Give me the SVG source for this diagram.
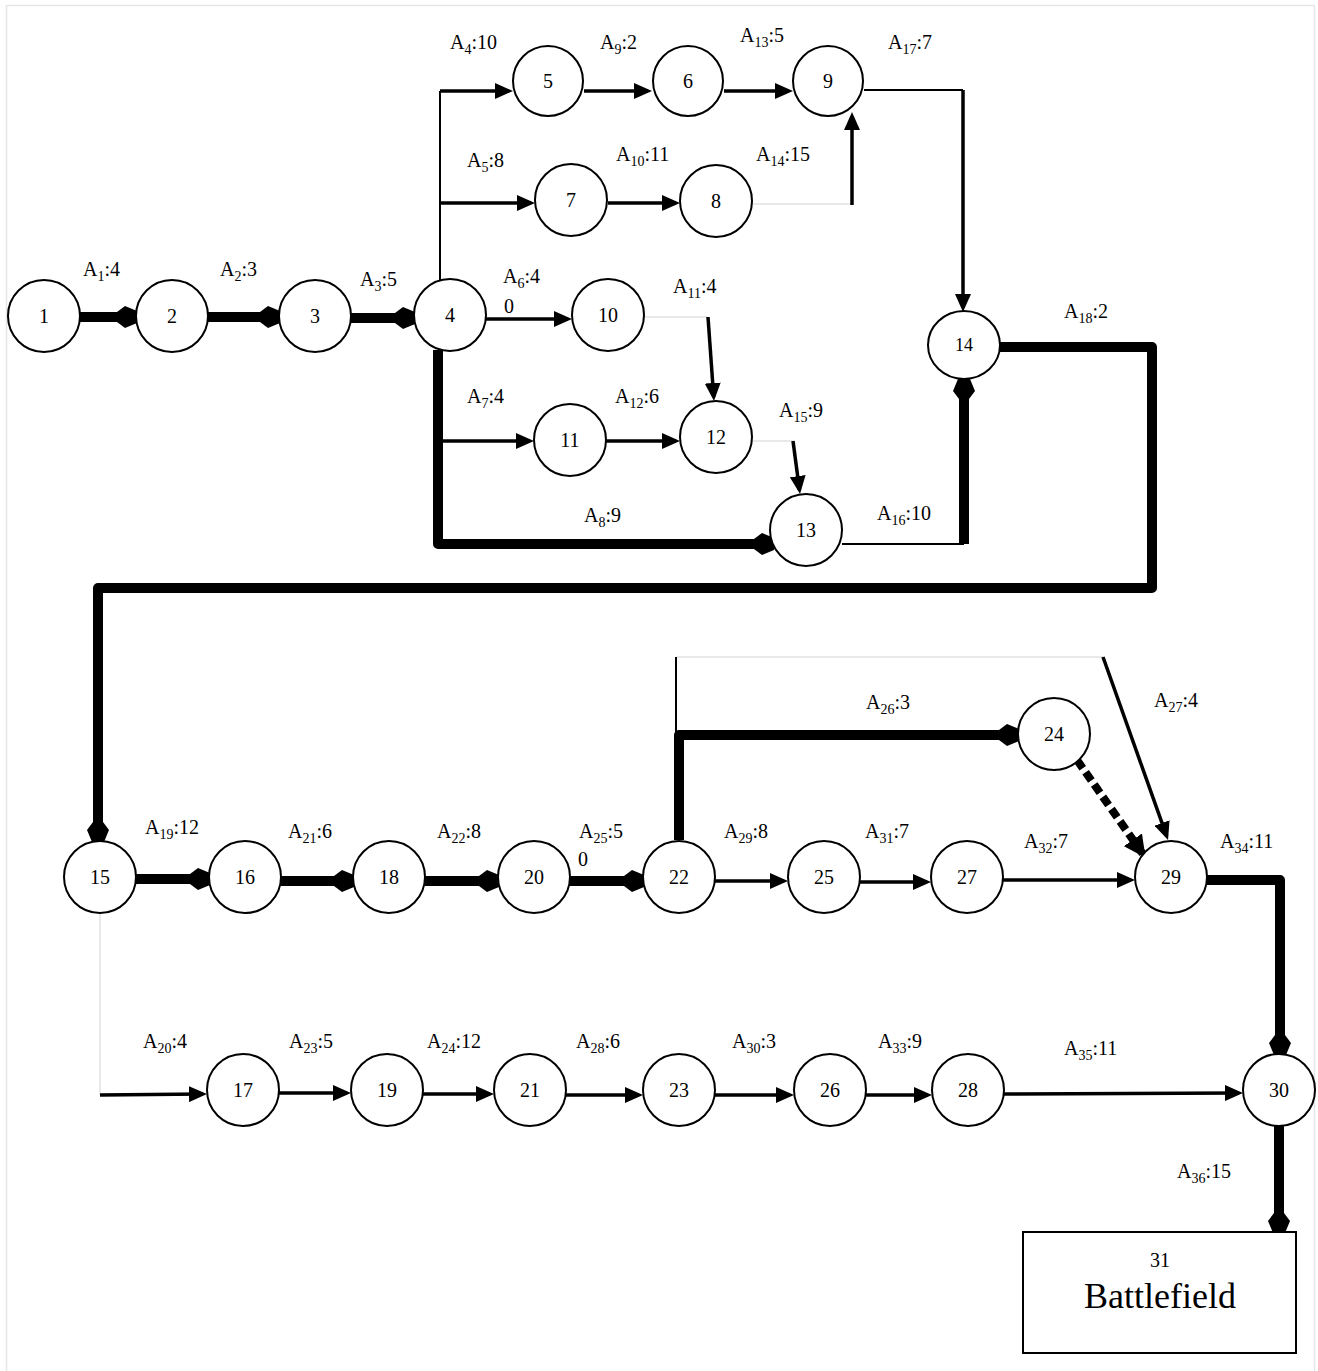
<svg xmlns="http://www.w3.org/2000/svg" width="1318" height="1371" viewBox="0 0 1318 1371">
<style>
text{font-family:'Liberation Serif','Times New Roman','DejaVu Serif',serif}
.n circle,.n ellipse,.n rect{fill:#fff;stroke:#000;stroke-width:2}
.n text{font-size:20px;text-anchor:middle;fill:#000}
.lb{font-size:20px;fill:#000}
.s{font-size:14px}
.a{fill:none;stroke:#000;stroke-width:3.5;marker-end:url(#tri)}
.t{fill:none;stroke:#000;stroke-width:2}
.g{fill:none;stroke:#e2e2e2;stroke-width:1.5}
.k{fill:none;stroke:#000;stroke-width:10;stroke-linejoin:round;marker-end:url(#dia)}
</style>
<defs>
<marker id="tri" markerUnits="userSpaceOnUse" viewBox="0 0 18 16" markerWidth="18" markerHeight="16" refX="14" refY="8" orient="auto"><path d="M0,0 L18,8 L0,16 z" fill="#000"/></marker>
<marker id="tri2" markerUnits="userSpaceOnUse" viewBox="0 0 22 22" markerWidth="22" markerHeight="22" refX="17" refY="11" orient="auto"><path d="M0,0 L22,11 L0,22 z" fill="#000"/></marker>
<marker id="dia" markerUnits="userSpaceOnUse" viewBox="0 0 20 24" markerWidth="20" markerHeight="24" refX="19" refY="12" orient="auto"><path d="M0,7 L8,1 L20,6 L20,18 L8,23 L0,17 z" fill="#000"/></marker>
</defs>
<rect x="6.5" y="5.5" width="1308" height="1400" fill="none" stroke="#e6e6e6" stroke-width="1.5"/>
<g id="connectors">
<path class="g" d="M752,204 H852"/>
<path class="g" d="M644,317 H708"/>
<path class="g" d="M752,441 H793"/>
<path class="g" d="M676,657 H1103"/>
<path class="g" d="M100,913 V1095"/>
<path class="t" d="M440,281 V91" stroke-width="2.5"/>
<path class="t" d="M864,90 H963"/>
<path class="t" d="M676,735 V657"/>
<path class="k" d="M80,317 H136"/>
<path class="k" d="M208,317 H279"/>
<path class="k" d="M351,318 H414"/>
<path class="k" d="M438,350 V544 H773" stroke-width="8"/>
<path class="t" d="M842,544 H964" stroke-width="5"/>
<path class="k" d="M964,544 V380"/>
<path class="k" d="M1000,347 H1152 V588 H98 V841" stroke-width="9"/>
<path class="k" d="M136,879 H209"/>
<path class="k" d="M281,881 H353"/>
<path class="k" d="M425,881 H498"/>
<path class="k" d="M570,881 H643"/>
<path class="k" d="M679,840 V735 H1018"/>
<path class="k" d="M1207,880 H1280 V1054"/>
<path class="k" d="M1279,1126 V1232"/>
<path d="M1077,760 L1142.7,853.7" fill="none" stroke="#000" stroke-width="8" stroke-dasharray="10 5" marker-end="url(#tri2)"/>
<path class="a" d="M440,91 H509"/>
<path class="a" d="M584,91 H648"/>
<path class="a" d="M724,91 H789"/>
<path class="a" d="M440,203 H531"/>
<path class="a" d="M608,203 H676"/>
<path class="a" d="M486,319 H568"/>
<path class="a" d="M440,441 H530"/>
<path class="a" d="M606,441 H676"/>
<path class="a" d="M715,881 H784"/>
<path class="a" d="M860,882 H927"/>
<path class="a" d="M1003,880 H1131"/>
<path class="a" d="M100,1095 L203,1094"/>
<path class="a" d="M279,1093 H347"/>
<path class="a" d="M423,1094 H490"/>
<path class="a" d="M566,1095 H639"/>
<path class="a" d="M715,1095 H790"/>
<path class="a" d="M866,1095 H928"/>
<path class="a" d="M1004,1094 L1239,1093"/>
<path class="a" d="M852,205 V116" stroke-width="4.5"/>
<path class="a" d="M963,90 V308" stroke-width="4"/>
<path class="a" d="M708,317 L713.7,397" stroke-width="4"/>
<path class="a" d="M793,441 L799.5,490" stroke-width="4"/>
<path class="a" d="M1103,657 L1166.7,836.2" stroke-width="2.5"/>
</g>
<g id="labels" class="lb">
<text x="83" y="276">A<tspan class="s" dy="5">1</tspan><tspan dy="-5">:4</tspan></text>
<text x="220" y="276">A<tspan class="s" dy="5">2</tspan><tspan dy="-5">:3</tspan></text>
<text x="360" y="286">A<tspan class="s" dy="5">3</tspan><tspan dy="-5">:5</tspan></text>
<text x="450" y="49">A<tspan class="s" dy="5">4</tspan><tspan dy="-5">:10</tspan></text>
<text x="600" y="49">A<tspan class="s" dy="5">9</tspan><tspan dy="-5">:2</tspan></text>
<text x="740" y="42">A<tspan class="s" dy="5">13</tspan><tspan dy="-5">:5</tspan></text>
<text x="888" y="49">A<tspan class="s" dy="5">17</tspan><tspan dy="-5">:7</tspan></text>
<text x="467" y="167">A<tspan class="s" dy="5">5</tspan><tspan dy="-5">:8</tspan></text>
<text x="616" y="161">A<tspan class="s" dy="5">10</tspan><tspan dy="-5">:11</tspan></text>
<text x="756" y="161">A<tspan class="s" dy="5">14</tspan><tspan dy="-5">:15</tspan></text>
<text x="503" y="283">A<tspan class="s" dy="5">6</tspan><tspan dy="-5">:4</tspan></text>
<text x="504" y="313">0</text>
<text x="673" y="293">A<tspan class="s" dy="5">11</tspan><tspan dy="-5">:4</tspan></text>
<text x="467" y="403">A<tspan class="s" dy="5">7</tspan><tspan dy="-5">:4</tspan></text>
<text x="615" y="403">A<tspan class="s" dy="5">12</tspan><tspan dy="-5">:6</tspan></text>
<text x="779" y="417">A<tspan class="s" dy="5">15</tspan><tspan dy="-5">:9</tspan></text>
<text x="584" y="522">A<tspan class="s" dy="5">8</tspan><tspan dy="-5">:9</tspan></text>
<text x="877" y="520">A<tspan class="s" dy="5">16</tspan><tspan dy="-5">:10</tspan></text>
<text x="1064" y="318">A<tspan class="s" dy="5">18</tspan><tspan dy="-5">:2</tspan></text>
<text x="145" y="834">A<tspan class="s" dy="5">19</tspan><tspan dy="-5">:12</tspan></text>
<text x="288" y="838">A<tspan class="s" dy="5">21</tspan><tspan dy="-5">:6</tspan></text>
<text x="437" y="838">A<tspan class="s" dy="5">22</tspan><tspan dy="-5">:8</tspan></text>
<text x="579" y="838">A<tspan class="s" dy="5">25</tspan><tspan dy="-5">:5</tspan></text>
<text x="578" y="866">0</text>
<text x="866" y="709">A<tspan class="s" dy="5">26</tspan><tspan dy="-5">:3</tspan></text>
<text x="1154" y="707">A<tspan class="s" dy="5">27</tspan><tspan dy="-5">:4</tspan></text>
<text x="724" y="838">A<tspan class="s" dy="5">29</tspan><tspan dy="-5">:8</tspan></text>
<text x="865" y="838">A<tspan class="s" dy="5">31</tspan><tspan dy="-5">:7</tspan></text>
<text x="1024" y="848">A<tspan class="s" dy="5">32</tspan><tspan dy="-5">:7</tspan></text>
<text x="1220" y="848">A<tspan class="s" dy="5">34</tspan><tspan dy="-5">:11</tspan></text>
<text x="143" y="1048">A<tspan class="s" dy="5">20</tspan><tspan dy="-5">:4</tspan></text>
<text x="289" y="1048">A<tspan class="s" dy="5">23</tspan><tspan dy="-5">:5</tspan></text>
<text x="427" y="1048">A<tspan class="s" dy="5">24</tspan><tspan dy="-5">:12</tspan></text>
<text x="576" y="1048">A<tspan class="s" dy="5">28</tspan><tspan dy="-5">:6</tspan></text>
<text x="732" y="1048">A<tspan class="s" dy="5">30</tspan><tspan dy="-5">:3</tspan></text>
<text x="878" y="1048">A<tspan class="s" dy="5">33</tspan><tspan dy="-5">:9</tspan></text>
<text x="1064" y="1055">A<tspan class="s" dy="5">35</tspan><tspan dy="-5">:11</tspan></text>
<text x="1177" y="1178">A<tspan class="s" dy="5">36</tspan><tspan dy="-5">:15</tspan></text>
</g>
<g id="n1" class="n"><circle cx="44" cy="316" r="36"/><text x="44" y="323">1</text></g>
<g id="n2" class="n"><circle cx="172" cy="316" r="36"/><text x="172" y="323">2</text></g>
<g id="n3" class="n"><circle cx="315" cy="316" r="36"/><text x="315" y="323">3</text></g>
<g id="n4" class="n"><circle cx="450" cy="315" r="36"/><text x="450" y="322">4</text></g>
<g id="n5" class="n"><circle cx="548" cy="81" r="35"/><text x="548" y="88">5</text></g>
<g id="n6" class="n"><circle cx="688" cy="81" r="35"/><text x="688" y="88">6</text></g>
<g id="n9" class="n"><circle cx="828" cy="81" r="35"/><text x="828" y="88">9</text></g>
<g id="n7" class="n"><circle cx="571" cy="200" r="36"/><text x="571" y="207">7</text></g>
<g id="n8" class="n"><circle cx="716" cy="201" r="36"/><text x="716" y="208">8</text></g>
<g id="n10" class="n"><circle cx="608" cy="315" r="36"/><text x="608" y="322">10</text></g>
<g id="n11" class="n"><circle cx="570" cy="440" r="36"/><text x="570" y="447">11</text></g>
<g id="n12" class="n"><circle cx="716" cy="437" r="36"/><text x="716" y="444">12</text></g>
<g id="n13" class="n"><circle cx="806" cy="530" r="36"/><text x="806" y="537">13</text></g>
<g id="n14" class="n"><ellipse cx="964" cy="345" rx="36" ry="34"/><text x="964" y="351" style="font-size:18px">14</text></g>
<g id="n15" class="n"><circle cx="100" cy="877" r="36"/><text x="100" y="884">15</text></g>
<g id="n16" class="n"><circle cx="245" cy="877" r="36"/><text x="245" y="884">16</text></g>
<g id="n18" class="n"><circle cx="389" cy="877" r="36"/><text x="389" y="884">18</text></g>
<g id="n20" class="n"><circle cx="534" cy="877" r="36"/><text x="534" y="884">20</text></g>
<g id="n22" class="n"><circle cx="679" cy="877" r="36"/><text x="679" y="884">22</text></g>
<g id="n25" class="n"><circle cx="824" cy="877" r="36"/><text x="824" y="884">25</text></g>
<g id="n27" class="n"><circle cx="967" cy="877" r="36"/><text x="967" y="884">27</text></g>
<g id="n29" class="n"><circle cx="1171" cy="877" r="36"/><text x="1171" y="884">29</text></g>
<g id="n24" class="n"><circle cx="1054" cy="734" r="36"/><text x="1054" y="741">24</text></g>
<g id="n17" class="n"><circle cx="243" cy="1090" r="36"/><text x="243" y="1097">17</text></g>
<g id="n19" class="n"><circle cx="387" cy="1090" r="36"/><text x="387" y="1097">19</text></g>
<g id="n21" class="n"><circle cx="530" cy="1090" r="36"/><text x="530" y="1097">21</text></g>
<g id="n23" class="n"><circle cx="679" cy="1090" r="36"/><text x="679" y="1097">23</text></g>
<g id="n26" class="n"><circle cx="830" cy="1090" r="36"/><text x="830" y="1097">26</text></g>
<g id="n28" class="n"><circle cx="968" cy="1090" r="36"/><text x="968" y="1097">28</text></g>
<g id="n30" class="n"><circle cx="1279" cy="1090" r="36"/><text x="1279" y="1097">30</text></g>
<g id="n31" class="n"><rect x="1023" y="1232" width="273" height="121"/><text x="1160" y="1267">31</text><text x="1160" y="1308" style="font-size:36px">Battlefield</text></g>
</svg>
